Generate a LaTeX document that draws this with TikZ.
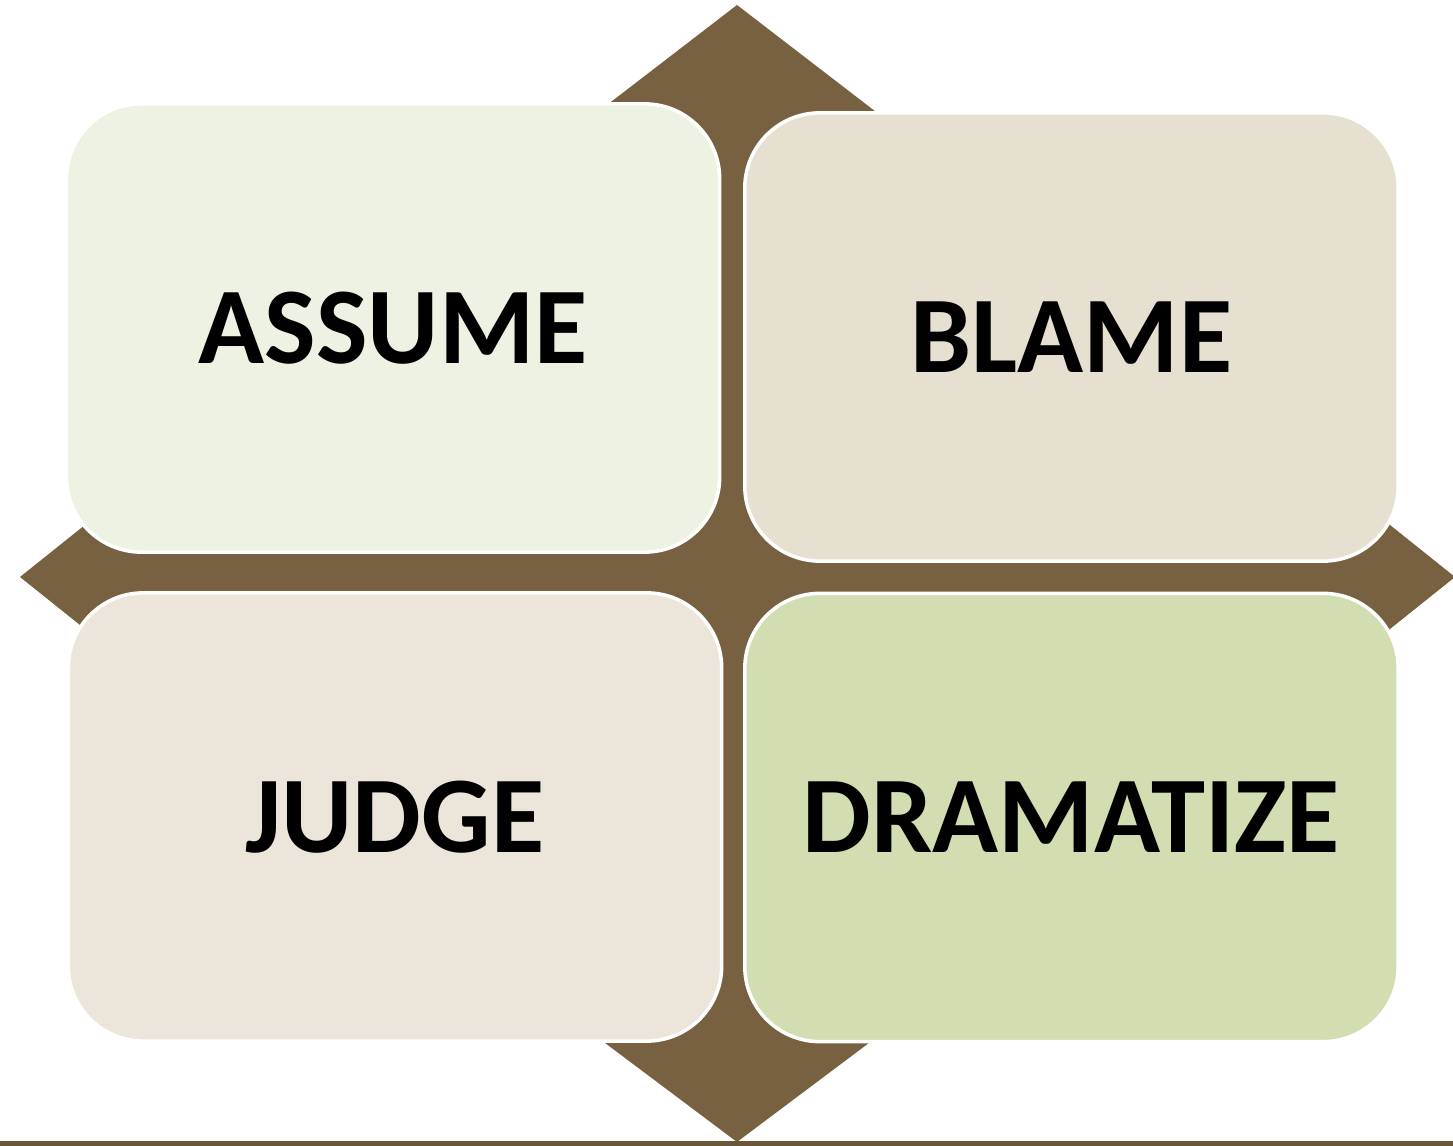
\documentclass[tikz,border=0pt]{standalone}
\usepackage{fontspec}
\setmainfont{Carlito}
\usetikzlibrary{positioning}

\definecolor{arrowbrown}{HTML}{786140}
\definecolor{rulebrown}{HTML}{6A5638}
\definecolor{assumefill}{HTML}{EEF2E2}
\definecolor{blamefill}{HTML}{E6E0D0}
\definecolor{judgefill}{HTML}{ECE5DA}
\definecolor{dramafill}{HTML}{D2DDB1}

\tikzset{
    quadbox/.style={draw=white, line width=1pt, rounded corners=0.75cm,
        minimum width=6.53cm, minimum height=4.48cm,
        font=\fontsize{31}{36}\selectfont\bfseries, text=black}
}

\begin{document}
\begin{tikzpicture}[x=0.01cm,y=-0.01cm]

        \useasboundingbox (0,0) rectangle (1453,1146);

        %%% BACKGROUND ARROW
        
        % Four-way arrow behind the boxes
        \fill[arrowbrown] (737,5) -- (932,155) -- (797,155) -- (797,517)
            -- (1335,517) -- (1335,481) -- (1455,577) -- (1335,673)
            -- (1335,637) -- (797,637) -- (797,992) -- (937,992)
            -- (737,1142) -- (537,992) -- (677,992) -- (677,637)
            -- (140,637) -- (140,673) -- (20,577) -- (140,481)
            -- (140,517) -- (677,517) -- (677,155) -- (542,155) -- cycle;
        
        % Base line
        \fill[rulebrown] (0,1141) rectangle (1453,1146);
        
        %%% BOXES
        
        \node[quadbox, fill=assumefill] (assume) at (393,328) {ASSUME};
        \node[quadbox, fill=blamefill] (blame) at (1071.5,337) {BLAME};
        \node[quadbox, fill=judgefill] (judge) at (395,817) {JUDGE};
        \node[quadbox, fill=dramafill] (dramatize) at (1071.5,817.5) {DRAMATIZE};
        
        \end{tikzpicture}
\end{document}
